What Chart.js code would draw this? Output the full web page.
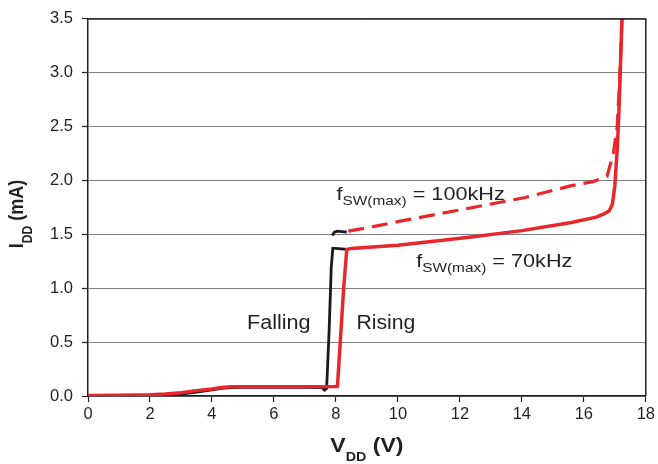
<!DOCTYPE html>
<html>
<head>
<meta charset="utf-8">
<script src="https://cdn.jsdelivr.net/npm/chart.js@4/dist/chart.umd.min.js"></script>
<style>
  html, body { margin: 0; padding: 0; background: #ffffff; }
  #wrap { width: 658px; height: 464px; }
</style>
</head>
<body>
<div id="wrap"><canvas id="c" width="658" height="464"></canvas></div>
<script>
// ---- Data ----
const xTicks = [0, 2, 4, 6, 8, 10, 12, 14, 16, 18];
const yTicks = [0, 0.5, 1.0, 1.5, 2.0, 2.5, 3.0, 3.5];
const yTickLabels = ['0.0', '0.5', '1.0', '1.5', '2.0', '2.5', '3.0', '3.5'];

// Rising, fSW(max) = 70kHz (red solid)
const rising70X = [0, 1, 2, 2.5, 3, 3.5, 4, 4.3, 4.6, 5, 6, 7, 7.95, 8.05, 8.15, 8.25, 8.35, 8.5, 10, 11.3, 12.5, 14, 15.6, 16.4, 16.65, 16.82, 16.92, 17.0, 17.08, 17.14, 17.18, 17.23];
const rising70Y = [0.005, 0.008, 0.012, 0.018, 0.03, 0.05, 0.065, 0.078, 0.085, 0.086, 0.086, 0.087, 0.088, 0.09, 0.55, 1.0, 1.36, 1.37, 1.40, 1.44, 1.48, 1.535, 1.61, 1.66, 1.69, 1.72, 1.78, 1.95, 2.3, 2.7, 3.05, 3.5];

// Rising, fSW(max) = 100kHz (red dashed)
const rising100X = [8.4, 9, 10.2, 12.15, 14.07, 15.57, 16.3, 16.75, 16.95, 17.07, 17.15, 17.23];
const rising100Y = [1.53, 1.56, 1.63, 1.735, 1.84, 1.95, 1.99, 2.04, 2.25, 2.48, 2.89, 3.5];

// Falling, fSW(max) = 70kHz (black solid)
const falling70X = [0, 1, 2, 2.5, 3, 3.5, 4, 4.3, 4.6, 5, 6, 7, 7.55, 7.63, 7.7, 7.78, 7.85, 7.9, 8.0, 8.35];
const falling70Y = [0, 0.002, 0.005, 0.01, 0.018, 0.035, 0.058, 0.07, 0.078, 0.08, 0.08, 0.08, 0.078, 0.055, 0.07, 0.6, 1.2, 1.37, 1.37, 1.36];

// Falling, fSW(max) = 100kHz (black, short segment)
const falling100X = [7.88, 7.95, 8.05, 8.35];
const falling100Y = [1.49, 1.52, 1.53, 1.52];

const toPts = (xs, ys) => xs.map((x, i) => ({ x: x, y: ys[i] }));

const RED = '#e8262c';
const BLACK = '#1b1b1b';
const AXIS = '#231f20';
const GRID = '#808080';
const TXT = '#231f20';

// Draw text made of parts (with subscripts), optionally stretched
function drawRich(ctx, x, y, parts, sx, sy, rotate, center) {
  ctx.save();
  ctx.translate(x, y);
  if (rotate) ctx.rotate(-Math.PI / 2);
  ctx.scale(sx, sy);
  ctx.textBaseline = 'alphabetic';
  ctx.textAlign = 'left';
  ctx.fillStyle = TXT;
  let total = 0;
  parts.forEach(p => { ctx.font = p.font; total += ctx.measureText(p.t).width; });
  let cx = center ? -total / 2 : 0;
  parts.forEach(p => {
    ctx.font = p.font;
    ctx.fillText(p.t, cx, p.dy || 0);
    cx += ctx.measureText(p.t).width;
  });
  ctx.restore();
}

const FONT = '"Liberation Sans", Arial, Helvetica, sans-serif';

const decorPlugin = {
  id: 'decor',
  afterDraw(chart) {
    const ctx = chart.ctx;
    const a = chart.chartArea;
    const xs = chart.scales.x, ys = chart.scales.y;
    // top and right frame lines
    ctx.save();
    ctx.strokeStyle = AXIS;
    ctx.lineWidth = 1.5;
    ctx.beginPath();
    ctx.moveTo(a.left, a.top);
    ctx.lineTo(a.right, a.top);
    ctx.lineTo(a.right, a.bottom);
    ctx.stroke();
    ctx.restore();

    // annotations (positioned in data coordinates)
    const fsw = (val) => [
      { t: 'f', font: '19px ' + FONT },
      { t: 'SW(max)', font: '13.5px ' + FONT, dy: 5 },
      { t: ' = ' + val, font: '19px ' + FONT }
    ];
    drawRich(ctx, xs.getPixelForValue(8.02), ys.getPixelForValue(1.82), fsw('100kHz'), 1.14, 1, false, false);
    drawRich(ctx, xs.getPixelForValue(10.59), ys.getPixelForValue(1.195), fsw('70kHz'), 1.14, 1, false, false);
    drawRich(ctx, xs.getPixelForValue(5.13), ys.getPixelForValue(0.62), [{ t: 'Falling', font: '20px ' + FONT }], 1.08, 1, false, false);
    drawRich(ctx, xs.getPixelForValue(8.66), ys.getPixelForValue(0.62), [{ t: 'Rising', font: '20px ' + FONT }], 1.06, 1, false, false);

    // axis titles
    drawRich(ctx, (a.left + a.right) / 2, 452, [
      { t: 'V', font: 'bold 21px ' + FONT },
      { t: 'DD', font: 'bold 13px ' + FONT, dy: 9 },
      { t: ' (V)', font: 'bold 21px ' + FONT }
    ], 1.1, 1, false, true);
    drawRich(ctx, 23, 214, [
      { t: 'I', font: 'bold 18px ' + FONT },
      { t: 'DD', font: 'bold 12px ' + FONT, dy: 8 },
      { t: ' (mA)', font: 'bold 18px ' + FONT }
    ], 1, 1.15, true, true);
  }
};

new Chart(document.getElementById('c'), {
  type: 'line',
  data: {
    datasets: [
      { data: toPts(rising70X, rising70Y), borderColor: RED, borderWidth: 3.5, pointRadius: 0, tension: 0, fill: false },
      { data: toPts(rising100X, rising100Y), borderColor: RED, borderWidth: 3.2, borderDash: [16, 8], pointRadius: 0, tension: 0, fill: false },
      { data: toPts(falling70X, falling70Y), borderColor: BLACK, borderWidth: 2.8, pointRadius: 0, tension: 0, fill: false },
      { data: toPts(falling100X, falling100Y), borderColor: BLACK, borderWidth: 2.8, pointRadius: 0, tension: 0, fill: false }
    ]
  },
  options: {
    responsive: false,
    animation: false,
    events: [],
    layout: { padding: { top: 17, right: 9, left: 0, bottom: 0 } },
    plugins: { legend: { display: false }, tooltip: { enabled: false }, title: { display: false } },
    scales: {
      x: {
        type: 'linear', min: 0, max: 18,
        afterBuildTicks: (s) => { s.ticks = xTicks.map(v => ({ value: v })); },
        afterFit: (s) => { s.height = 68; },
        ticks: { color: TXT, font: { family: FONT, size: 16.5 }, padding: 3, maxRotation: 0, autoSkip: false },
        grid: { drawOnChartArea: false, drawTicks: true, tickLength: 6, tickColor: AXIS, tickWidth: 1.2 },
        border: { color: AXIS, width: 1.5 }
      },
      y: {
        type: 'linear', min: 0, max: 3.5,
        afterBuildTicks: (s) => { s.ticks = yTicks.map(v => ({ value: v })); },
        afterFit: (s) => { s.width = 88; },
        ticks: { color: TXT, font: { family: FONT, size: 16.5 }, padding: 9, autoSkip: false,
                 callback: (v, i) => yTickLabels[i] },
        grid: { color: GRID, lineWidth: 1, drawTicks: true, tickLength: 6, tickColor: AXIS, tickWidth: 1.2 },
        border: { color: AXIS, width: 1.5 }
      }
    }
  },
  plugins: [decorPlugin]
});
</script>
</body>
</html>
